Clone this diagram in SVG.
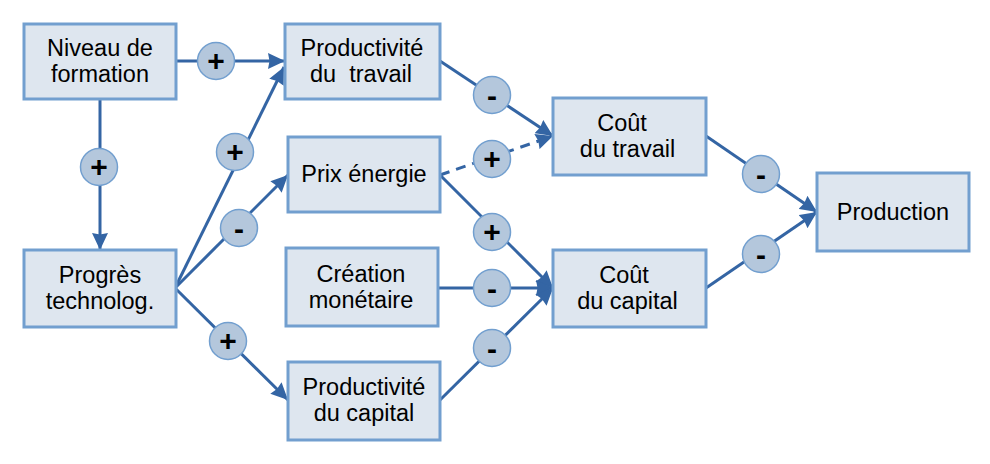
<svg xmlns="http://www.w3.org/2000/svg" width="990" height="464" viewBox="0 0 990 464">
<defs>
<style>
.box{fill:#dee6ef;stroke:#729fcf;stroke-width:3}
.t{font-family:"Liberation Sans",Arial,sans-serif;font-size:23.5px;fill:#000;text-anchor:middle}
.c{fill:none;stroke:#3465a4;stroke-width:3}
.d{stroke-dasharray:10 7}
.lc{fill:#b4c7dc;stroke:#729fcf;stroke-width:1.5}
.s{font-family:"Liberation Sans",Arial,sans-serif;font-size:30px;font-weight:bold;fill:#000;text-anchor:middle}
</style>
<marker id="ah" markerUnits="userSpaceOnUse" markerWidth="18" markerHeight="16" refX="17" refY="8" orient="auto" viewBox="0 0 18 16">
<path d="M0,0 L17,8 L0,16 L1.5,8 z" fill="#3465a4"/>
</marker>
</defs>
<rect width="990" height="464" fill="#fff"/>
<g id="connectors">
<path class="c" d="M176,61 L285,61" marker-end="url(#ah)"/>
<path class="c" d="M100,99 L100,250" marker-end="url(#ah)"/>
<path class="c" d="M175,288 L284,67" marker-end="url(#ah)"/>
<path class="c" d="M175,288 L288,175" marker-end="url(#ah)"/>
<path class="c" d="M175,288 L288,400" marker-end="url(#ah)"/>
<path class="c" d="M440,61 L553,136" marker-end="url(#ah)"/>
<path class="c d" d="M440,175 L553,136" marker-end="url(#ah)"/>
<path class="c" d="M440,175 L553,288" marker-end="url(#ah)"/>
<path class="c" d="M438,288 L553,288" marker-end="url(#ah)"/>
<path class="c" d="M440,400 L553,288" marker-end="url(#ah)"/>
<path class="c" d="M706,136 L817,212" marker-end="url(#ah)"/>
<path class="c" d="M706,288 L817,212" marker-end="url(#ah)"/>
</g>
<g id="labels">
<g><circle class="lc" cx="216" cy="61" r="18.5"/><text class="s" x="216" y="71">+</text></g>
<g><circle class="lc" cx="99" cy="167" r="18.5"/><text class="s" x="99" y="177">+</text></g>
<g><circle class="lc" cx="235" cy="152" r="18.5"/><text class="s" x="235" y="162">+</text></g>
<g><circle class="lc" cx="239" cy="228" r="18.5"/><text class="s" x="239" y="239">-</text></g>
<g><circle class="lc" cx="228" cy="341" r="18.5"/><text class="s" x="228" y="351">+</text></g>
<g><circle class="lc" cx="492" cy="95" r="18.5"/><text class="s" x="492" y="106">-</text></g>
<g><circle class="lc" cx="492" cy="159" r="18.5"/><text class="s" x="492" y="169">+</text></g>
<g><circle class="lc" cx="492" cy="232" r="18.5"/><text class="s" x="492" y="242">+</text></g>
<g><circle class="lc" cx="492" cy="288" r="18.5"/><text class="s" x="492" y="299">-</text></g>
<g><circle class="lc" cx="492" cy="348" r="18.5"/><text class="s" x="492" y="359">-</text></g>
<g><circle class="lc" cx="761" cy="174" r="18.5"/><text class="s" x="761" y="185">-</text></g>
<g><circle class="lc" cx="761" cy="254" r="18.5"/><text class="s" x="761" y="265">-</text></g>
</g>
<g id="niveau"><rect class="box" x="24" y="24" width="152" height="75"/><text class="t" x="100" y="55.5">Niveau de</text><text class="t" x="100" y="82">formation</text></g>
<g id="prod-travail"><rect class="box" x="285" y="24" width="155" height="75"/><text class="t" x="362" y="55.5">Productivité</text><text class="t" x="361" y="82" xml:space="preserve">du  travail</text></g>
<g id="prix-energie"><rect class="box" x="288" y="137" width="152" height="75"/><text class="t" x="364" y="182">Prix énergie</text></g>
<g id="progres"><rect class="box" x="24" y="250" width="152" height="77"/><text class="t" x="100" y="282.5">Progrès</text><text class="t" x="100" y="309">technolog.</text></g>
<g id="creation"><rect class="box" x="286" y="248" width="152" height="78"/><text class="t" x="361" y="281.5">Création</text><text class="t" x="361" y="308">monétaire</text></g>
<g id="prod-capital"><rect class="box" x="288" y="362" width="152" height="78"/><text class="t" x="364" y="395">Productivité</text><text class="t" x="364" y="421">du capital</text></g>
<g id="cout-travail"><rect class="box" x="553" y="98" width="153" height="77"/><text class="t" x="622" y="131">Coût</text><text class="t" x="627.5" y="157">du travail</text></g>
<g id="cout-capital"><rect class="box" x="553" y="250" width="153" height="77"/><text class="t" x="624" y="283">Coût</text><text class="t" x="627.5" y="309">du capital</text></g>
<g id="production"><rect class="box" x="817" y="173" width="152" height="78"/><text class="t" x="893" y="219.5">Production</text></g>
</svg>
